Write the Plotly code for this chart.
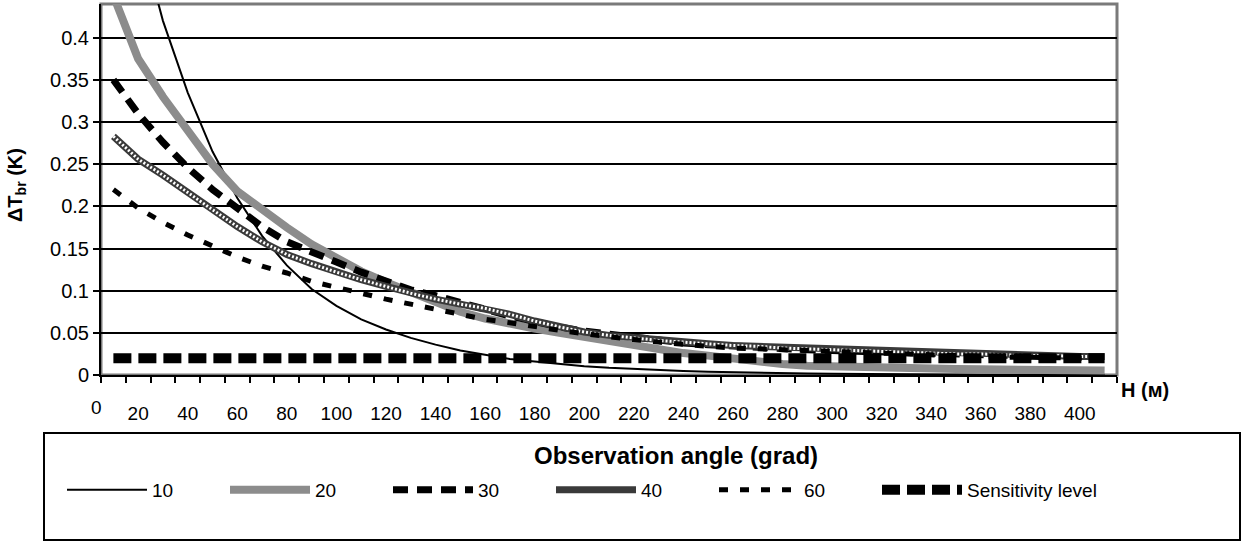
import plotly.graph_objects as go

# Height H (m) - category centres
H = [10, 20, 30, 40, 50, 60, 70, 80, 90, 100, 110, 120, 130, 140, 150, 160, 170, 180, 190, 200,
     210, 220, 230, 240, 250, 260, 270, 280, 290, 300, 310, 320, 330, 340, 350, 360, 370, 380, 390, 400, 410]

a10 = [0.68, 0.53, 0.42, 0.335, 0.265, 0.21, 0.165, 0.13, 0.102, 0.082, 0.066, 0.054, 0.044, 0.036,
       0.029, 0.024, 0.019, 0.016, 0.013, 0.0105, 0.0085, 0.007, 0.0057, 0.0046, 0.0038, 0.0031,
       0.0025, 0.002, 0.0017, 0.0014, 0.0011, 0.0009, 0.0007, 0.0006, 0.0005, 0.0004, 0.0003,
       0.0003, 0.0002, 0.0002, 0.0002]

a20 = [0.45, 0.375, 0.33, 0.29, 0.25, 0.218, 0.195, 0.175, 0.155, 0.138, 0.123, 0.11, 0.098, 0.087,
       0.075, 0.067, 0.06, 0.055, 0.05, 0.045, 0.039, 0.034, 0.029, 0.026, 0.023, 0.019, 0.016,
       0.013, 0.011, 0.01, 0.0092, 0.0085, 0.008, 0.0075, 0.007, 0.0067, 0.0064, 0.006, 0.0058,
       0.0055, 0.0052]

a30 = [0.35, 0.31, 0.276, 0.246, 0.22, 0.198, 0.176, 0.158, 0.147, 0.134, 0.122, 0.112, 0.101, 0.094,
       0.085, 0.078, 0.07, 0.063, 0.057, 0.052, 0.048, 0.044, 0.041, 0.038, 0.036, 0.034, 0.032,
       0.031, 0.03, 0.029, 0.028, 0.027, 0.026, 0.025, 0.024, 0.024, 0.023, 0.022, 0.022, 0.021, 0.021]

a40 = [0.283, 0.256, 0.237, 0.216, 0.196, 0.176, 0.158, 0.143, 0.132, 0.122, 0.113, 0.105, 0.097, 0.09,
       0.084, 0.079, 0.072, 0.064, 0.057, 0.051, 0.047, 0.044, 0.041, 0.039, 0.037, 0.035, 0.034,
       0.032, 0.031, 0.03, 0.029, 0.028, 0.027, 0.026, 0.025, 0.025, 0.024, 0.023, 0.023, 0.022, 0.022]

a60 = [0.22, 0.198, 0.181, 0.166, 0.153, 0.14, 0.129, 0.121, 0.111, 0.104, 0.096, 0.09, 0.084, 0.078,
       0.072, 0.066, 0.062, 0.057, 0.053, 0.049, 0.045, 0.042, 0.039, 0.036, 0.034, 0.032, 0.031,
       0.029, 0.028, 0.027, 0.026, 0.025, 0.024, 0.023, 0.023, 0.022, 0.021, 0.021, 0.02, 0.02, 0.02]

sensitivity = [0.02] * len(H)

x_tick_vals = [20, 40, 60, 80, 100, 120, 140, 160, 180, 200, 220, 240, 260, 280, 300, 320, 340, 360, 380, 400]
y_tick_vals = [0, 0.05, 0.1, 0.15, 0.2, 0.25, 0.3, 0.35, 0.4]
y_tick_text = ["0", "0.05", "0.1", "0.15", "0.2", "0.25", "0.3", "0.35", "0.4"]

FONT = "Liberation Sans, Arial, sans-serif"
EW = 68  # legend entry text width

fig = go.Figure()
fig.add_trace(go.Scatter(x=H, y=a10, name="10", mode="lines", legendwidth=EW,
                         line=dict(color="black", width=2)))
fig.add_trace(go.Scatter(x=H, y=a20, name="20", mode="lines", legendwidth=EW,
                         line=dict(color="#8c8c8c", width=8)))
fig.add_trace(go.Scatter(x=H, y=a30, name="30", mode="lines", legendwidth=EW,
                         line=dict(color="black", width=7, dash="15px,9px")))
fig.add_trace(go.Scatter(x=H, y=a40, name="40", mode="lines", legendgroup="40", legendwidth=EW,
                         line=dict(color="#3a3a3a", width=7)))
fig.add_trace(go.Scatter(x=H, y=a40, name="40", mode="lines", legendgroup="40", showlegend=False,
                         line=dict(color="white", width=3, dash="2px,2px")))
fig.add_trace(go.Scatter(x=H, y=a60, name="60", mode="lines", legendwidth=EW,
                         line=dict(color="black", width=5, dash="9px,12px")))
fig.add_trace(go.Scatter(x=H, y=sensitivity, name="Sensitivity level", mode="lines", legendwidth=170,
                         line=dict(color="black", width=10, dash="18px,7px")))

L, R, T, B = 101, 132, 4, 169
W, HH = 1249, 544
pw = W - L - R
ph = HH - T - B

def px(x):
    return (x - L) / pw

def py(y):
    return (HH - B - y) / ph

fig.update_layout(
    width=W, height=HH,
    margin=dict(l=L, r=R, t=T, b=B, pad=0),
    paper_bgcolor="white", plot_bgcolor="white",
    font=dict(family=FONT, size=19, color="black"),
    showlegend=True,
    legend=dict(
        orientation="h",
        x=px(62), xanchor="left",
        y=py(490), yanchor="middle",
        font=dict(size=19, family=FONT),
        itemwidth=80,
        bgcolor="rgba(0,0,0,0)",
        borderwidth=0,
        tracegroupgap=0,
    ),
    xaxis=dict(
        range=[5, 415],
        tickmode="array", tickvals=x_tick_vals,
        ticks="outside", ticklen=20, tickcolor="rgba(0,0,0,0)",
        showgrid=False, zeroline=False,
        showline=True, linecolor="black", linewidth=2,
        minor=dict(ticks="outside", ticklen=6, tickwidth=1.5, tickcolor="black",
                   tick0=5, dtick=10, showgrid=False),
        tickfont=dict(size=19),
    ),
    yaxis=dict(
        range=[0, 0.44],
        tickmode="array", tickvals=y_tick_vals, ticktext=y_tick_text,
        ticks="outside", ticklen=6, tickwidth=1.5, tickcolor="black",
        showgrid=True, gridcolor="black", gridwidth=1.5,
        zeroline=False,
        showline=True, linecolor="black", linewidth=2,
        tickfont=dict(size=20),
    ),
    shapes=[
        dict(type="rect", xref="paper", yref="paper", x0=0, x1=1, y0=0, y1=1,
             line=dict(color="#7a7a7a", width=3), layer="below"),
        dict(type="rect", xref="paper", yref="paper",
             x0=px(44), x1=px(1240), y0=py(540), y1=py(433),
             line=dict(color="black", width=2), layer="above"),
    ],
    annotations=[
        dict(text="<b>ΔT<sub>br</sub> (K)</b>", xref="paper", yref="paper",
             x=px(17), y=py(185), textangle=-90, showarrow=False,
             font=dict(size=20, family=FONT), xanchor="center", yanchor="middle"),
        dict(text="<b>H (м)</b>", xref="paper", yref="paper",
             x=px(1145), y=py(390), showarrow=False,
             font=dict(size=20, family=FONT), xanchor="center", yanchor="middle"),
        dict(text="0", xref="paper", yref="paper",
             x=px(96), y=py(408), showarrow=False,
             font=dict(size=19, family=FONT), xanchor="center", yanchor="middle"),
        dict(text="<b>Observation angle (grad)</b>", xref="paper", yref="paper",
             x=px(676), y=py(455), showarrow=False,
             font=dict(size=24, family=FONT), xanchor="center", yanchor="middle"),
    ],
)

fig.write_html("out.html")
